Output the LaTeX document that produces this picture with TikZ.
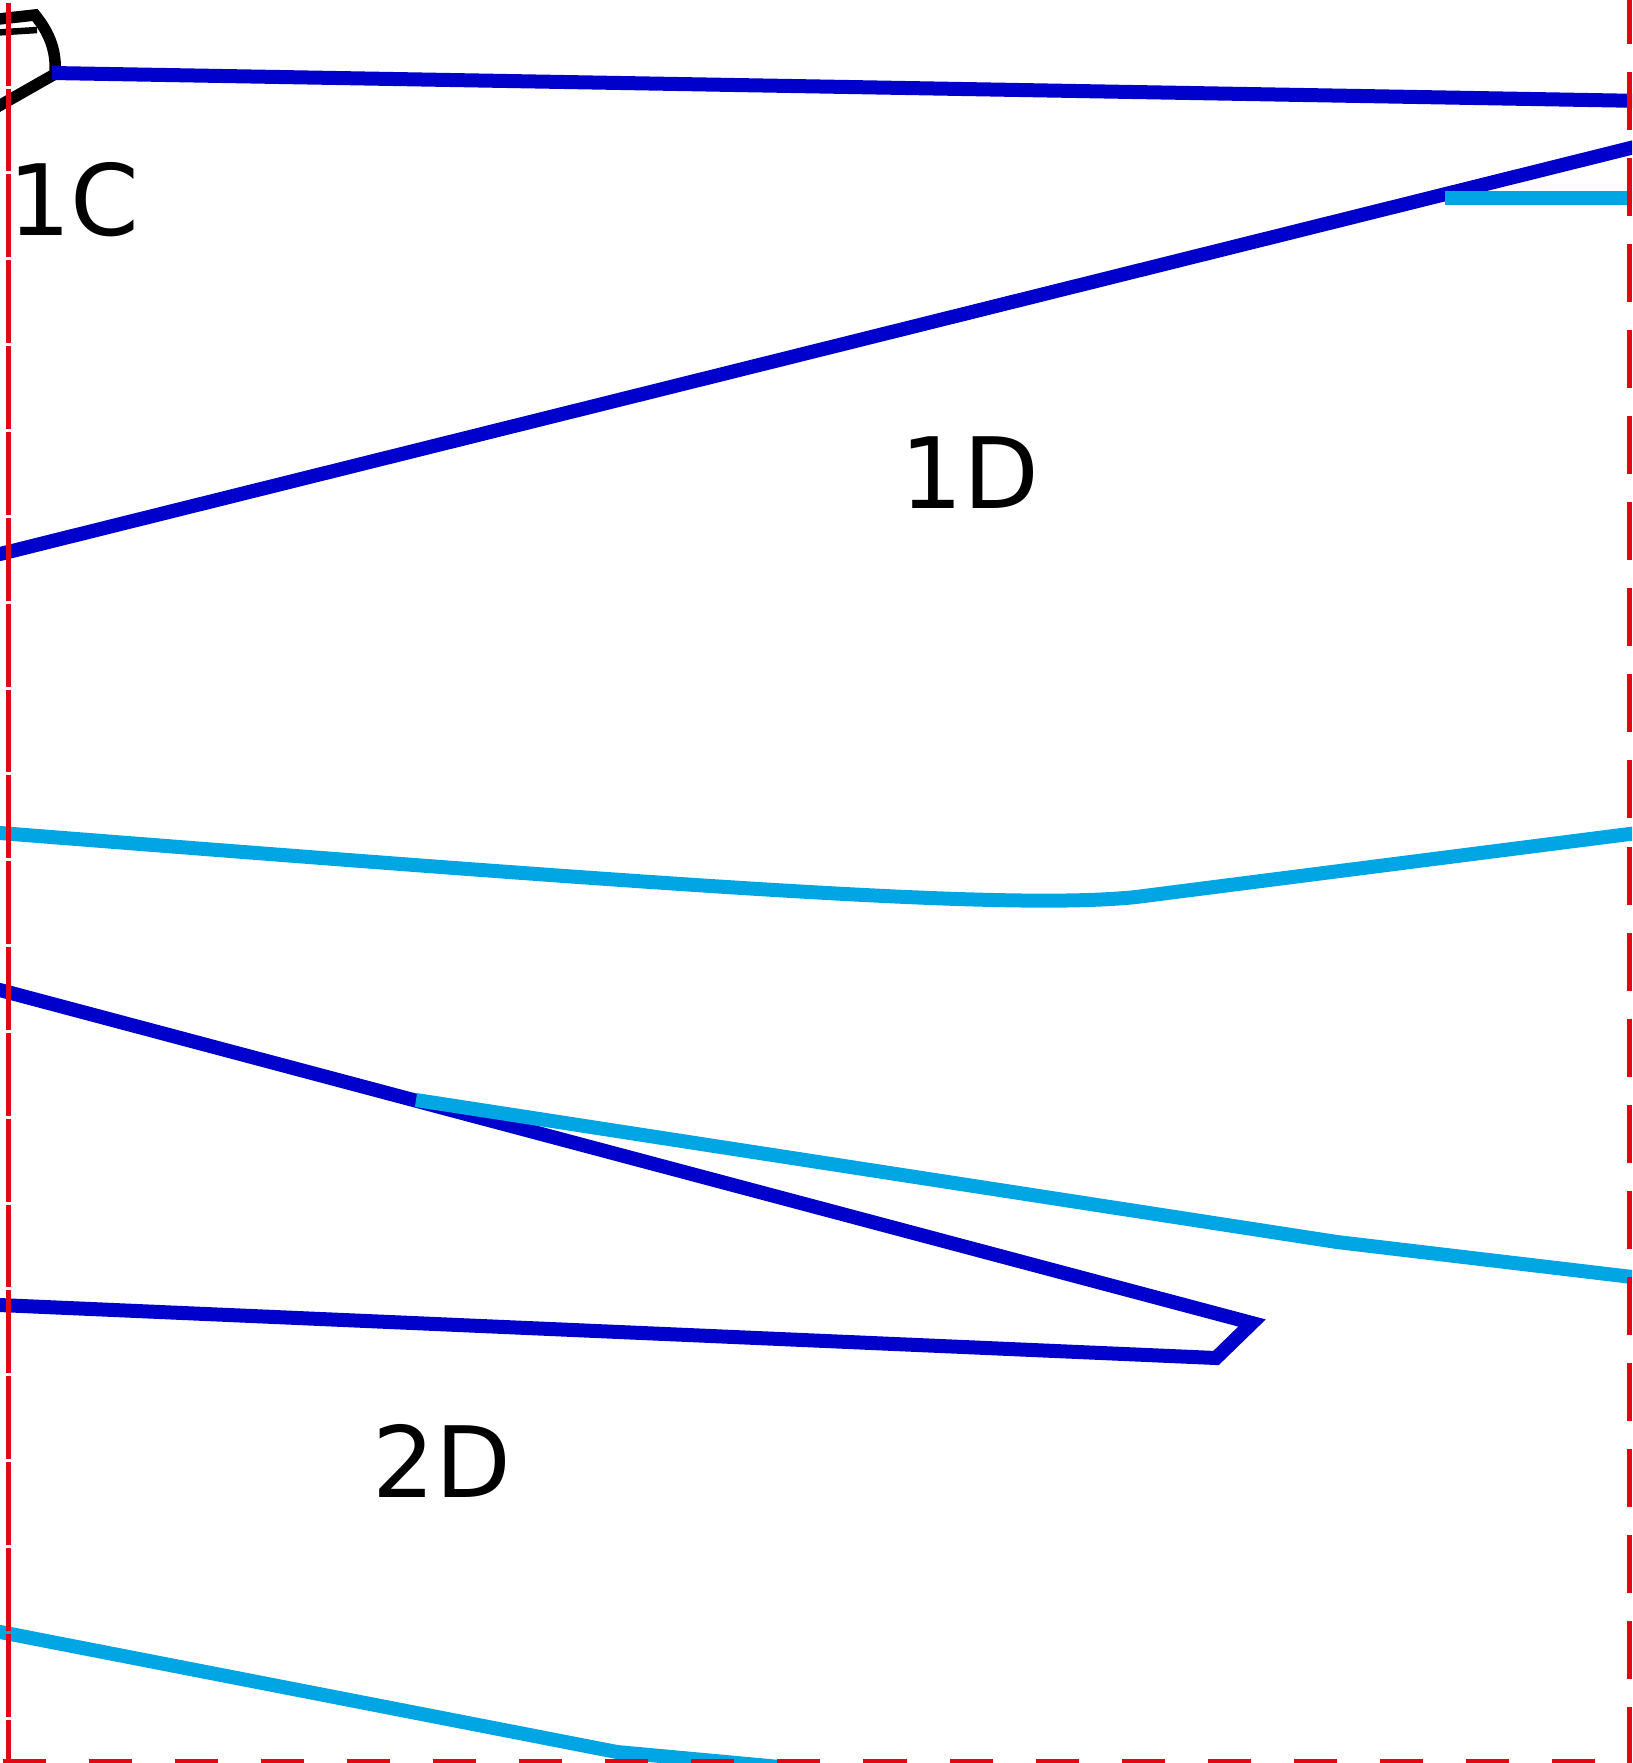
\documentclass[tikz,border=0pt]{standalone}
\usepackage{fontspec}
\setmainfont{DejaVu Sans}
\usepackage{xcolor}
\usepackage{tikz}
\definecolor{cRoute}{HTML}{0000CC}
\definecolor{cRail}{HTML}{00A6E4}
\definecolor{cBound}{HTML}{E30613}
\tikzset{
  route/.style  ={draw=cRoute, line width=1.4mm, line join=miter},
  rail/.style   ={draw=cRail, line width=1.4mm, line join=miter},
  outline/.style={draw=black, line width=1.15mm, line join=miter},
  bound/.style  ={draw=cBound, line width=0.5mm},
  zone/.style   ={anchor=base, inner sep=0pt, font=\fontsize{28}{34}\selectfont},
}
\begin{document}
\begin{tikzpicture}[x=0.01cm, y=-0.01cm]
        \useasboundingbox (0,0) rectangle (1632,1763);
        \clip (0,0) rectangle (1632,1763);
        \draw[outline] (-10,20) -- (35,15) .. controls (47,30) and (57,48) .. (55,74) -- (-10,111);
        \draw[black, line width=0.65mm] (-10,33) -- (37,30);
        \draw[route] (52,73) -- (1645,101);
        \draw[route] (-10,556.5) -- (1645,144.4);
        \draw[route] (-10,987.4) -- (1252,1323) -- (1216,1358) -- (-10,1304.6);
        \draw[rail] (1445,198) -- (1645,198);
        \draw[rail] (-10,832) -- (0,833) .. controls (700,888) and (1010,910) .. (1136,897) -- (1645,832);
        \draw[rail] (416,1100) -- (1337,1242) -- (1645,1278.5);
        \draw[rail] (-10,1630) -- (617,1752) -- (780,1767);
        \draw[bound, dash pattern=on 0.828cm off 0.03cm] (8.5,2.7) -- (8.5,1761);
        \draw[bound, dash pattern=on 0.43cm off 0.43cm] (3,1761) -- (1632,1761);
        \draw[bound, dash pattern=on 0.58cm off 0.28cm, dash phase=0.14cm] (1629.5,0) -- (1629.5,1763);
        \node[zone] (l1C) at (74,235) {1C};
        \node[zone] (l1D) at (970,508) {1D};
        \node[zone] (l2D) at (442,1497) {2D};
      \end{tikzpicture}
\end{document}
